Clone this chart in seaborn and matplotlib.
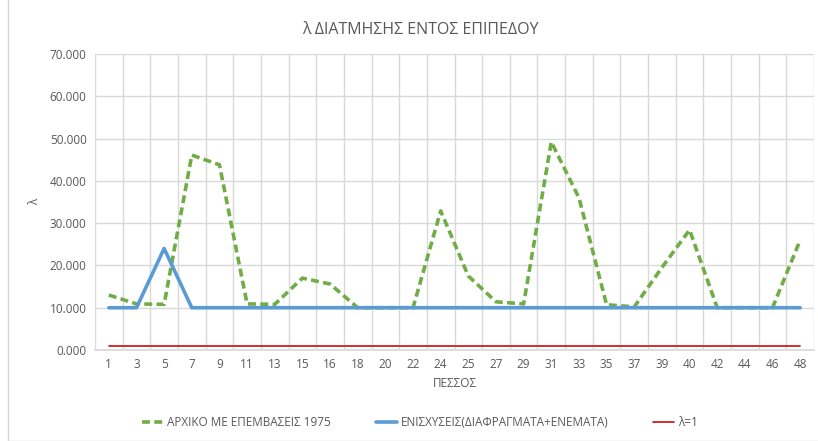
import matplotlib
matplotlib.use("Agg")
import matplotlib.pyplot as plt
import seaborn as sns
import numpy as np
import pandas as pd
from matplotlib.patches import Rectangle
from matplotlib.ticker import FixedLocator, FuncFormatter

categories = ["1", "3", "5", "7", "9", "11", "13", "15", "16", "18", "20", "22", "24",
              "25", "27", "29", "31", "33", "35", "37", "39", "40", "42", "44", "46", "48"]
arxiko = [13.0, 10.9, 10.8, 46.1, 43.8, 10.9, 10.8, 17.0, 15.6, 10.0, 10.0, 10.0, 32.9,
          17.5, 11.4, 10.9, 49.2, 36.0, 10.7, 10.2, 19.5, 28.4, 10.0, 10.0, 10.0, 26.0]
enisxyseis = [10.0, 10.0, 24.0, 10.0, 10.0, 10.0, 10.0, 10.0, 10.0, 10.0, 10.0, 10.0, 10.0,
              10.0, 10.0, 10.0, 10.0, 10.0, 10.0, 10.0, 10.0, 10.0, 10.0, 10.0, 10.0, 10.0]
lambda1 = [1.0] * len(categories)
series_names = ["ΑΡΧΙΚΟ ΜΕ ΕΠΕΜΒΑΣΕΙΣ 1975", "ΕΝΙΣΧΥΣΕΙΣ(ΔΙΑΦΡΑΓΜΑΤΑ+ΕΝΕΜΑΤΑ)", "λ=1"]
yticks = [0, 10, 20, 30, 40, 50, 60, 70]

sns.set_theme(style="white")
plt.rcParams['font.family'] = ['Open Sans', 'DejaVu Sans']

fig = plt.figure(figsize=(8.18, 4.41), dpi=100)
ax = fig.add_axes([95/818, 1-350/441, (814-95)/818, (350-54)/441])

pos = np.arange(len(categories))
df = pd.DataFrame({"pos": np.concatenate([pos, pos, pos]),
                   "val": arxiko + enisxyseis + lambda1,
                   "series": [series_names[0]]*len(pos) + [series_names[1]]*len(pos) + [series_names[2]]*len(pos)})

colors = {series_names[0]: "#70ad47", series_names[1]: "#5b9bd5", series_names[2]: "#c9211e"}
sns.lineplot(data=df[df.series == series_names[0]], x="pos", y="val", color=colors[series_names[0]],
             linewidth=2.6, linestyle=(0, (2.2, 1.2)), ax=ax, label=series_names[0], zorder=3)
sns.lineplot(data=df[df.series == series_names[1]], x="pos", y="val", color=colors[series_names[1]],
             linewidth=2.6, ax=ax, label=series_names[1], zorder=4)
sns.lineplot(data=df[df.series == series_names[2]], x="pos", y="val", color=colors[series_names[2]],
             linewidth=1.3, ax=ax, label=series_names[2], zorder=4)

ax.set_xlim(-0.5, len(categories) - 0.5)
ax.set_ylim(0, 70)
ax.set_yticks(yticks)
ax.yaxis.set_major_formatter(FuncFormatter(lambda v, p: f"{v:.3f}"))
ax.set_xticks(pos)
ax.set_xticklabels(categories)
ax.xaxis.set_minor_locator(FixedLocator(np.arange(-0.5, len(categories), 1.0)))
ax.grid(True, axis="y", which="major", color="#d9d9d9", linewidth=1.0)
ax.grid(True, axis="x", which="minor", color="#d9d9d9", linewidth=1.0)
ax.grid(False, axis="x", which="major")
ax.set_axisbelow(True)
for s in ["top", "right", "left"]:
    ax.spines[s].set_visible(False)
ax.spines["bottom"].set_color("#d9d9d9")
ax.tick_params(axis="both", which="both", length=0, labelsize=8.5, colors="#595959", pad=6)
ax.set_xlabel("ΠΕΣΣΟΣ", fontsize=8.5, color="#595959", labelpad=4)
ax.set_ylabel("λ", fontsize=8.5, color="#595959", labelpad=6)

fig.text(420/818, 1-30/441, "λ ΔΙΑΤΜΗΣΗΣ ΕΝΤΟΣ ΕΠΙΠΕΔΟΥ", ha="center", va="center",
         fontsize=11.5, color="#595959")

leg = ax.legend(loc="center", bbox_to_anchor=(420/818, 1-423/441), bbox_transform=fig.transFigure,
                ncol=3, frameon=False, fontsize=8.5, handlelength=1.8, handletextpad=0.3,
                columnspacing=3.8)
for t in leg.get_texts():
    t.set_color("#595959")

fig.patches.append(Rectangle((8/818, 0.0), 1.2, 1.2, transform=fig.transFigure,
                             fill=False, edgecolor="#d9d9d9", linewidth=1.0))

fig.savefig("out.png", dpi=100)
